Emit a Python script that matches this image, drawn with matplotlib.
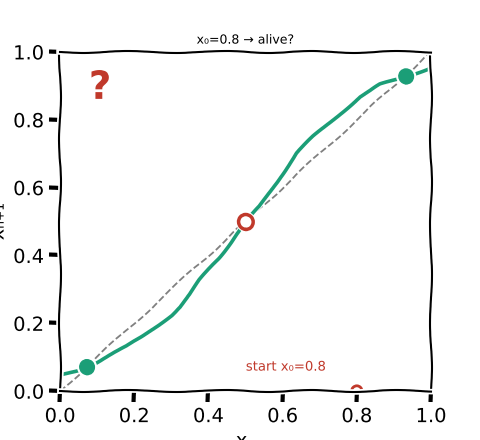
import matplotlib
matplotlib.use("Agg")
import matplotlib.pyplot as plt
import numpy as np

# map x_n -> x_{n+1}
xn = [0.009, 0.072, 0.13, 0.18, 0.225, 0.27, 0.30, 0.323, 0.35, 0.377, 0.431, 0.476,
      0.50, 0.539, 0.593, 0.638, 0.683, 0.755, 0.809, 0.863, 0.932, 0.993]
xn1 = [0.050, 0.070, 0.103, 0.131, 0.163, 0.20, 0.225, 0.249, 0.285, 0.327, 0.396,
       0.465, 0.498, 0.544, 0.632, 0.701, 0.750, 0.819, 0.868, 0.903, 0.927, 0.952]

stable_x = [0.072, 0.932]
stable_y = [0.070, 0.927]
unstable_x = [0.50]
unstable_y = [0.498]
start_x = [0.8]
start_y = [0.0]

ticks = [0.0, 0.2, 0.4, 0.6, 0.8, 1.0]

green = "#1b9e77"
red = "#c0392b"

plt.xkcd()
plt.rcParams['font.family'] = ['DejaVu Sans']

fig = plt.figure(figsize=(4.8, 4.4), dpi=100)
ax = fig.add_axes([0.125, 0.111, 0.773, 0.771])

# diagonal x_{n+1} = x_n
ax.plot([0, 1], [0, 1], '--', color='gray', lw=1.3)
ax.plot(xn, xn1, color=green, lw=2.6)
ax.plot(stable_x, stable_y, 'o', color=green, ms=10.5)
ax.plot(unstable_x, unstable_y, 'o', mfc='white', mec=red, mew=2.5, ms=10.5)
ax.plot(start_x, start_y, 'o', mfc='white', mec=red, mew=2, ms=7)

ax.text(0.108, 0.894, "?", color=red, fontsize=28, fontweight='bold',
        ha='center', va='center')
ax.text(0.609, 0.071, "start x₀=0.8", color=red, fontsize=9.5,
        ha='center', va='center')

ax.set_xlim(0, 1)
ax.set_ylim(0, 1)
ax.set_xticks(ticks)
ax.set_yticks(ticks)
ax.set_title("x₀=0.8 → alive?", fontsize=9)
ax.set_xlabel("xₙ")
ax.set_ylabel("xₙ₊₁")

fig.savefig("out.png", dpi=100)
